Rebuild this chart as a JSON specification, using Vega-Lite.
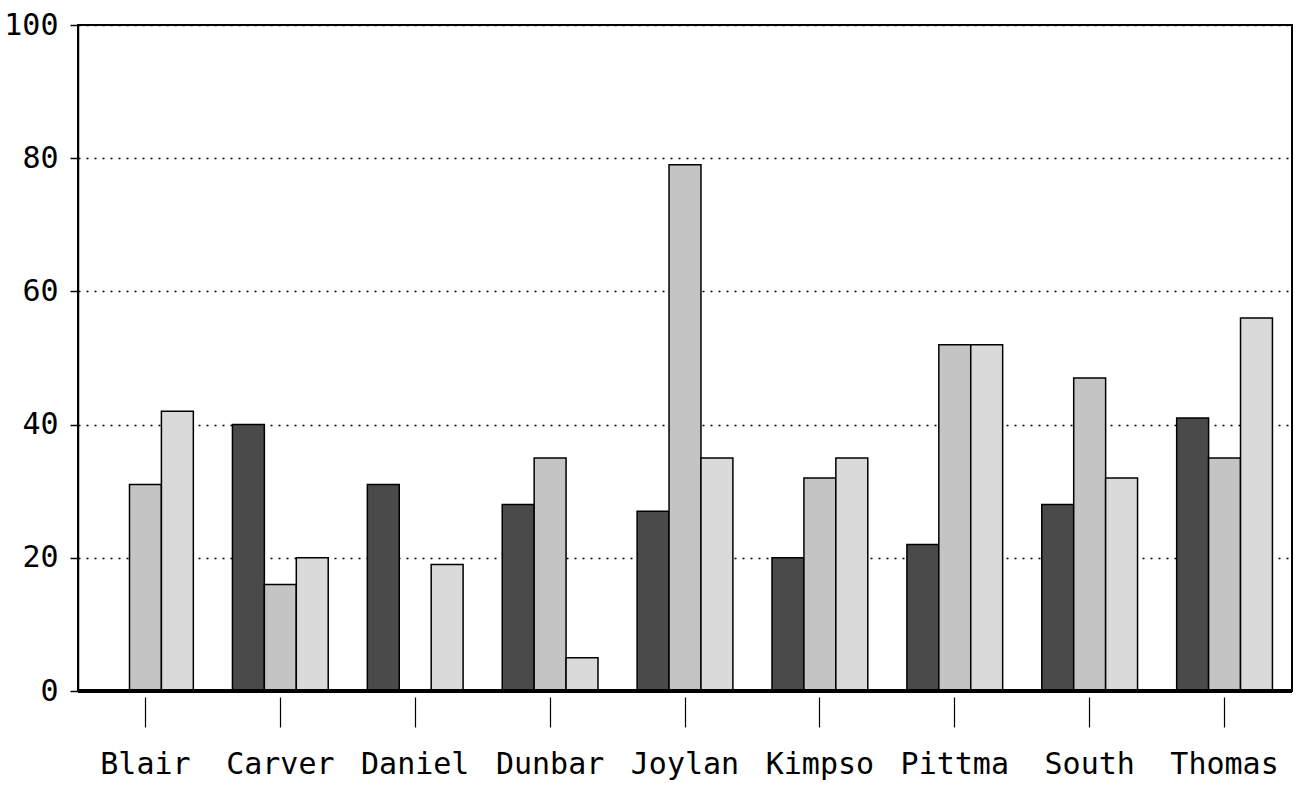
{
  "$schema": "https://vega.github.io/schema/vega-lite/v6.json",
  "width": 1214,
  "height": 666,
  "autosize": {"type": "none"},
  "padding": {"left": 78, "top": 25, "right": 7, "bottom": 104},
  "background": "white",
  "config": {
    "view": {"stroke": "black", "strokeWidth": 2},
    "font": "DejaVu Sans Mono"
  },
  "data": {
    "values": [
      {"school": "Blair", "series": "S1", "value": 0},
      {"school": "Blair", "series": "S2", "value": 31},
      {"school": "Blair", "series": "S3", "value": 42},
      {"school": "Carver", "series": "S1", "value": 40},
      {"school": "Carver", "series": "S2", "value": 16},
      {"school": "Carver", "series": "S3", "value": 20},
      {"school": "Daniel", "series": "S1", "value": 31},
      {"school": "Daniel", "series": "S2", "value": 0},
      {"school": "Daniel", "series": "S3", "value": 19},
      {"school": "Dunbar", "series": "S1", "value": 28},
      {"school": "Dunbar", "series": "S2", "value": 35},
      {"school": "Dunbar", "series": "S3", "value": 5},
      {"school": "Joylan", "series": "S1", "value": 27},
      {"school": "Joylan", "series": "S2", "value": 79},
      {"school": "Joylan", "series": "S3", "value": 35},
      {"school": "Kimpso", "series": "S1", "value": 20},
      {"school": "Kimpso", "series": "S2", "value": 32},
      {"school": "Kimpso", "series": "S3", "value": 35},
      {"school": "Pittma", "series": "S1", "value": 22},
      {"school": "Pittma", "series": "S2", "value": 52},
      {"school": "Pittma", "series": "S3", "value": 52},
      {"school": "South", "series": "S1", "value": 28},
      {"school": "South", "series": "S2", "value": 47},
      {"school": "South", "series": "S3", "value": 32},
      {"school": "Thomas", "series": "S1", "value": 41},
      {"school": "Thomas", "series": "S2", "value": 35},
      {"school": "Thomas", "series": "S3", "value": 56}
    ]
  },
  "layer": [
    {
      "mark": {"type": "bar", "stroke": "black", "strokeWidth": 1.5},
      "encoding": {
        "x": {
          "field": "school", "type": "nominal", "sort": null,
          "scale": {"paddingInner": 0.29, "paddingOuter": 0.145},
          "axis": {
            "title": null, "labelAngle": 0, "domain": false, "offset": 6,
            "tickSize": 30, "tickColor": "black", "tickWidth": 1.2,
            "labelFontSize": 30, "labelColor": "black", "labelPadding": 22, "labelDx": -4
          }
        },
        "xOffset": {"field": "series", "type": "nominal", "sort": null, "scale": {"paddingInner": 0}},
        "y": {
          "field": "value", "type": "quantitative",
          "scale": {"domain": [0, 100], "nice": false},
          "axis": {
            "title": null, "values": [0, 20, 40, 60, 80, 100],
            "grid": true, "gridDash": [2, 6], "gridColor": "black", "gridWidth": 1.5, "gridOpacity": 1,
            "domainColor": "black", "domainWidth": 1.5,
            "tickColor": "black", "tickSize": 8, "tickWidth": 1.5,
            "labelFontSize": 30, "labelPadding": 12, "labelColor": "black"
          }
        },
        "fill": {
          "field": "series", "type": "nominal",
          "scale": {"domain": ["S1", "S2", "S3"], "range": ["#4a4a4a", "#c4c4c4", "#dadada"]},
          "legend": null
        }
      }
    },
    {
      "mark": {"type": "rule", "strokeWidth": 4, "color": "black"},
      "encoding": {"y": {"datum": 0}}
    }
  ]
}
